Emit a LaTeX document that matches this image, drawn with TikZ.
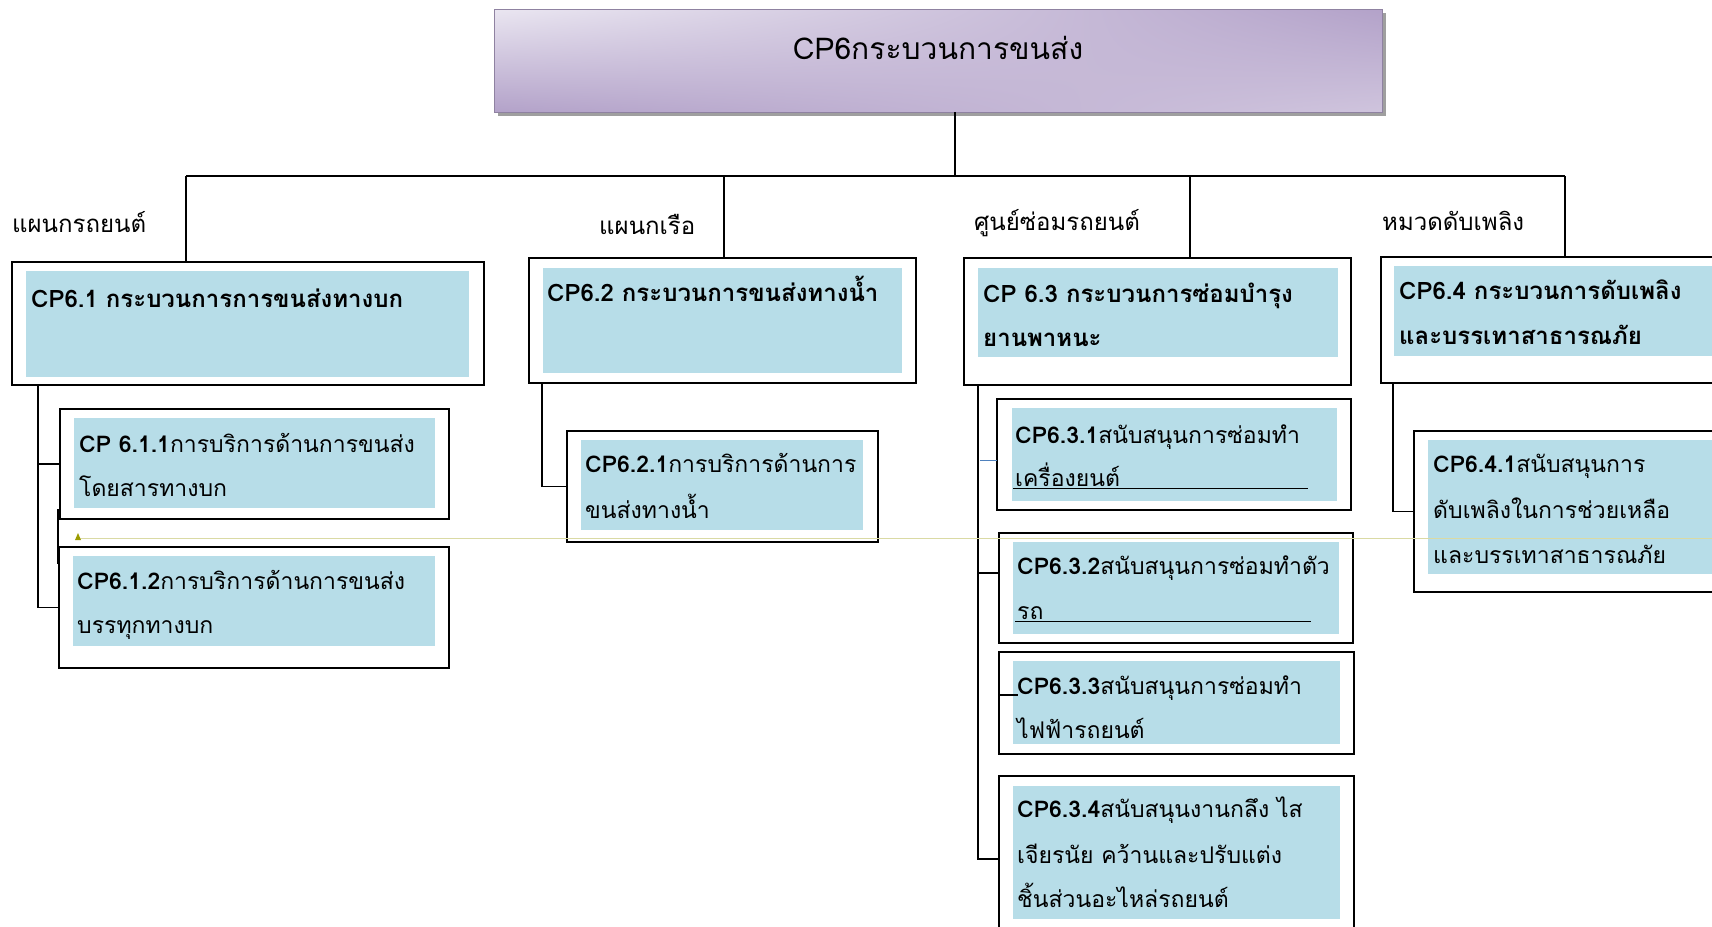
\documentclass[tikz,border=0pt]{standalone}
\usepackage{fontspec}
\usetikzlibrary{shadings}
\setmainfont[Script=Thai]{Loma}
\definecolor{boxblue}{HTML}{B7DDE8}
\definecolor{tl}{HTML}{EAE6F1}
\definecolor{tdark}{HTML}{B3A2C9}
\definecolor{tmid}{HTML}{CFC4DD}
\definecolor{olivedot}{HTML}{DADAA4}
\definecolor{olivetri}{HTML}{9C9C00}
\definecolor{bluelink}{HTML}{4F81BD}
\newcommand\rbox[6]{\node[#1, minimum width={#5pt-#3pt}, minimum height={#6pt-#4pt}] (#2) at (#3,#4) {};}
\begin{document}
\begin{tikzpicture}[x=1pt,y=-1pt,
  obox/.style={draw=black, line width=1.6pt, fill=white, inner sep=0pt, outer sep=0pt, anchor=north west},
  ibox/.style={fill=boxblue, inner sep=0pt, outer sep=0pt, anchor=north west},
  conn/.style={line width=1.6pt},
  hd/.style={font=\fontsize{24}{30}\selectfont\bfseries, anchor=base west, inner sep=0pt},
  sb/.style={font=\fontsize{23}{30}\selectfont, anchor=base west, inner sep=0pt},
  lab/.style={font=\fontsize{24}{28}\selectfont, anchor=base west, inner sep=0pt}]
\clip (0,0) rectangle (1712,926);
\fill[white] (0,0) rectangle (1712,926);

% title
\fill[gray!75] (498,13) rectangle (1386,116);
\shade[upper left=tl, upper right=tdark, lower left=tdark, lower right=tmid] (494,9) rectangle (1382,112);
\draw[tdark!80!black, line width=0.8pt] (494,9) rectangle (1382,112);
\node[inner sep=0pt, outer sep=0pt, minimum width=888pt, minimum height=103pt, anchor=north west] (title) at (494,9) {};
\node[font=\fontsize{30}{36}\selectfont, anchor=base, inner sep=0pt] (ttl) at (938,59) {CP6กระบวนการขนส่ง};

% bus
\coordinate (hub) at (955,176);
\coordinate (d1) at (186,176);
\coordinate (d2) at (724,176);
\coordinate (d3) at (1190,176);
\coordinate (d4) at (1565,176);

% level 1 boxes
\rbox{obox}{b61}{12}{262}{484}{385}
\rbox{ibox}{i61}{26}{271}{469}{377}
\rbox{obox}{b62}{529}{258}{916}{383}
\rbox{ibox}{i62}{543}{268}{902}{373}
\rbox{obox}{b63}{964}{258}{1351}{385}
\rbox{ibox}{i63}{978}{268}{1338}{357}
\rbox{obox}{b64}{1381}{257}{1730}{383}
\rbox{ibox}{i64}{1394}{266}{1730}{356}

\draw[conn] (title.south -| hub) -- (hub);
\draw[conn] (d1) -- (d4);
\draw[conn] (d1) -- (d1 |- b61.north);
\draw[conn] (d2) -- (d2 |- b62.north);
\draw[conn] (d3) -- (d3 |- b63.north);
\draw[conn] (d4) -- (d4 |- b64.north);

% labels
\node[lab] (l1) at (12,232) {แผนกรถยนต์};
\node[lab] (l2) at (599,234) {แผนกเรือ};
\node[lab] (l3) at (974,230) {ศูนย์ซ่อมรถยนต์};
\node[lab] (l4) at (1382,230) {หมวดดับเพลิง};

\node[hd] (t61) at (31,307) {CP6.1 กระบวนการการขนส่งทางบก};
\node[hd] (t62) at (547,301) {CP6.2 กระบวนการขนส่งทางน้ำ};
\node[hd] (t63a) at (983,302) {CP 6.3 กระบวนการซ่อมบำรุง};
\node[hd] (t63b) at (983,346) {ยานพาหนะ};
\node[hd] (t64a) at (1399,299) {CP6.4 กระบวนการดับเพลิง};
\node[hd] (t64b) at (1399,344) {และบรรเทาสาธารณภัย};

% level 2 boxes
\rbox{obox}{b611}{60}{409}{449}{519}
\rbox{ibox}{i611}{74}{418}{435}{508}
\rbox{obox}{b612}{59}{547}{449}{668}
\rbox{ibox}{i612}{73}{556}{435}{646}
\rbox{obox}{b621}{567}{431}{878}{542}
\rbox{ibox}{i621}{581}{440}{863}{530}
\rbox{obox}{b631}{997}{399}{1351}{510}
\rbox{ibox}{i631}{1012}{408}{1337}{501}
\rbox{obox}{b632}{999}{533}{1353}{643}
\rbox{ibox}{i632}{1013}{542}{1339}{634}
\rbox{obox}{b633}{999}{652}{1354}{754}
\rbox{ibox}{i633}{1013}{661}{1340}{744}
\rbox{obox}{b634}{999}{776}{1354}{942}
\rbox{ibox}{i634}{1013}{786}{1340}{919}
\rbox{obox}{b641}{1414}{431}{1730}{592}
\rbox{ibox}{i641}{1428}{440}{1730}{574}

% level 2 connectors
\coordinate (c61) at ([xshift=26pt]b61.south west);
\coordinate (c63) at ([xshift=14pt]b63.south west);
\draw[conn] (c61) |- (b611.west);
\draw[conn] (c61) |- (b612.west);
\draw[conn] ([xshift=13pt]b62.south west) |- (b621.west);
\draw[conn] (c63) |- (b634.west);
\draw[conn] ([yshift=15pt]c63 |- b632.west) -- ([yshift=15pt]b632.west);
\draw[bluelink, line width=1.2pt] ([xshift=2pt,yshift=-6pt]c63 |- b631.west) -- ([yshift=-6pt]b631.west);
\draw[conn] ([yshift=8pt]b633.west) -- ([xshift=19pt,yshift=8pt]b633.west);
\draw[conn] ([xshift=12pt]b64.south west) |- (b641.west);

% text of level 2
\node[sb] (t611a) at (79,452) {\textbf{CP 6.1.1}การบริการด้านการขนส่ง};
\node[sb] (t611b) at (79,496) {โดยสารทางบก};
\node[sb] (t612a) at (77,589) {\textbf{CP6.1.2}การบริการด้านการขนส่ง};
\node[sb] (t612b) at (77,633) {บรรทุกทางบก};
\node[sb] (t621a) at (585,472) {\textbf{CP6.2.1}การบริการด้านการ};
\node[sb] (t621b) at (585,518) {ขนส่งทางน้ำ};
\node[sb] (t631a) at (1015,443) {\textbf{CP6.3.1}สนับสนุนการซ่อมทำ};
\node[sb] (t631b) at (1015,486) {เครื่องยนต์};
\node[sb] (t632a) at (1017,574) {\textbf{CP6.3.2}สนับสนุนการซ่อมทำตัว};
\node[sb] (t632b) at (1017,619) {รถ};
\node[sb] (t633a) at (1017,694) {\textbf{CP6.3.3}สนับสนุนการซ่อมทำ};
\node[sb] (t633b) at (1017,738) {ไฟฟ้ารถยนต์};
\node[sb] (t634a) at (1017,817) {\textbf{CP6.3.4}สนับสนุนงานกลึง ไส};
\node[sb] (t634b) at (1017,863) {เจียรนัย คว้านและปรับแต่ง};
\node[sb] (t634c) at (1017,907) {ชิ้นส่วนอะไหล่รถยนต์};
\node[sb] (t641a) at (1433,472) {\textbf{CP6.4.1}สนับสนุนการ};
\node[sb] (t641b) at (1433,518) {ดับเพลิงในการช่วยเหลือ};
\node[sb] (t641c) at (1433,563) {และบรรเทาสาธารณภัย};

% underlines
\draw[line width=1pt] (1013,488) -- (1308,488);
\draw[line width=1pt] (1015,621) -- (1311,621);

% stray marks
\draw[olivedot, line width=0.8pt] (78,538) -- (1712,538);
\fill[olivetri] (75,540) -- (81,540) -- (78,533) -- cycle;
\draw[line width=2.4pt] (58,509) -- (58,564);
\end{tikzpicture}
\end{document}
